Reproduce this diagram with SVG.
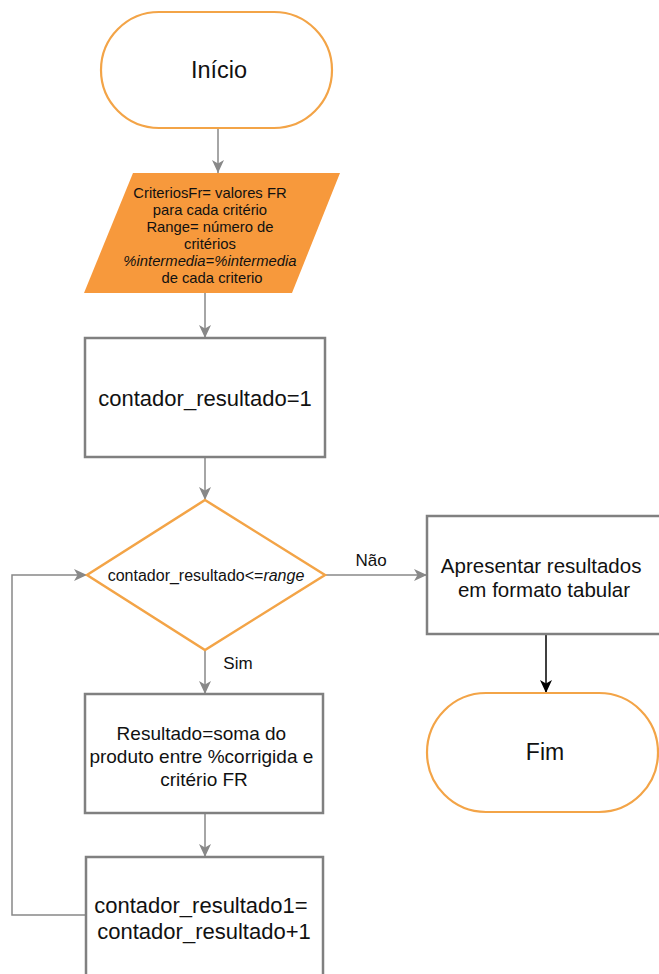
<svg xmlns="http://www.w3.org/2000/svg" width="659" height="974" viewBox="0 0 659 974">
<style>
.term{fill:#ffffff;stroke:#F3A447;stroke-width:2.2}
.box{fill:#ffffff;stroke:#808080;stroke-width:2.5}
.io{fill:#F7993C;stroke:none}
.dec{fill:#ffffff;stroke:#F3A447;stroke-width:2.5}
.t{font-family:"Liberation Sans",Arial,sans-serif;fill:#111111;text-anchor:middle;dominant-baseline:central}
.c{fill:none;stroke:#888888;stroke-width:1.5}
.cb{fill:none;stroke:#000000;stroke-width:1.5}
</style>
<defs>
<marker id="ag" markerUnits="userSpaceOnUse" markerWidth="14" markerHeight="14" viewBox="0 0 14 14" refX="13" refY="7" orient="auto">
<path d="M0,1 L13,7 L0,13 L3.5,7 z" fill="#888888"/>
</marker>
<marker id="ab" markerUnits="userSpaceOnUse" markerWidth="14" markerHeight="14" viewBox="0 0 14 14" refX="13" refY="7" orient="auto">
<path d="M0,1 L13,7 L0,13 L3.5,7 z" fill="#000000"/>
</marker>
</defs>
<rect width="659" height="974" fill="#ffffff"/>
<g id="connectors">
<line class="c" x1="218" y1="128" x2="218" y2="173" marker-end="url(#ag)"/>
<line class="c" x1="205" y1="293" x2="205" y2="338" marker-end="url(#ag)"/>
<line class="c" x1="205" y1="457" x2="205" y2="500" marker-end="url(#ag)"/>
<line class="c" x1="325" y1="575" x2="427" y2="575" marker-end="url(#ag)"/>
<text class="t" x="371" y="560" font-size="17">Não</text>
<line class="c" x1="205" y1="650" x2="205" y2="694" marker-end="url(#ag)"/>
<text class="t" x="238" y="663" font-size="17">Sim</text>
<line class="c" x1="205" y1="813" x2="205" y2="857" marker-end="url(#ag)"/>
<polyline class="c" points="86,915 12,915 12,575 87,575" marker-end="url(#ag)"/>
<line class="cb" x1="546" y1="634" x2="546" y2="693" marker-end="url(#ab)"/>
</g>
<g id="inicio">
<rect class="term" x="101" y="12" width="231" height="116" rx="58" ry="58"/>
<text class="t" x="219" y="70" font-size="23.5">Início</text>
</g>
<g id="entrada">
<polygon class="io" points="133,173 340,173 292,293 84,293"/>
<text class="t" font-size="14.8" x="212">
<tspan x="212" y="193">CriteriosFr= valores FR</tspan>
<tspan x="212" y="210">para cada critério</tspan>
<tspan x="212" y="227">Range= número de</tspan>
<tspan x="212" y="244">critérios</tspan>
<tspan x="212" y="261" font-style="italic">%intermedia=%intermedia</tspan>
<tspan x="212" y="278">de cada criterio</tspan>
</text>
</g>
<g id="init">
<rect class="box" x="85" y="338" width="240" height="119"/>
<text class="t" x="205" y="398" font-size="22">contador_resultado=1</text>
</g>
<g id="decisao">
<polygon class="dec" points="205,500 325,575 205,650 87,575"/>
<text class="t" x="206" y="575" font-size="16">contador_resultado&lt;=<tspan font-style="italic">range</tspan></text>
</g>
<g id="apresentar">
<rect class="box" x="427" y="516" width="245" height="118"/>
<text class="t" font-size="20.5">
<tspan x="544" y="565">Apresentar resultados</tspan>
<tspan x="544" y="589">em formato tabular</tspan>
</text>
</g>
<g id="fim">
<rect class="term" x="427" y="693" width="231" height="119" rx="59" ry="59.5"/>
<text class="t" x="545" y="752" font-size="23">Fim</text>
</g>
<g id="resultado">
<rect class="box" x="85" y="694" width="238" height="119"/>
<text class="t" font-size="19">
<tspan x="204" y="733">Resultado=soma do</tspan>
<tspan x="204" y="756">produto entre %corrigida e</tspan>
<tspan x="204" y="779">critério FR</tspan>
</text>
</g>
<g id="incremento">
<rect class="box" x="86" y="857" width="237" height="125"/>
<text class="t" font-size="22">
<tspan x="204" y="905">contador_resultado1=</tspan>
<tspan x="204" y="931">contador_resultado+1</tspan>
</text>
</g>
</svg>
